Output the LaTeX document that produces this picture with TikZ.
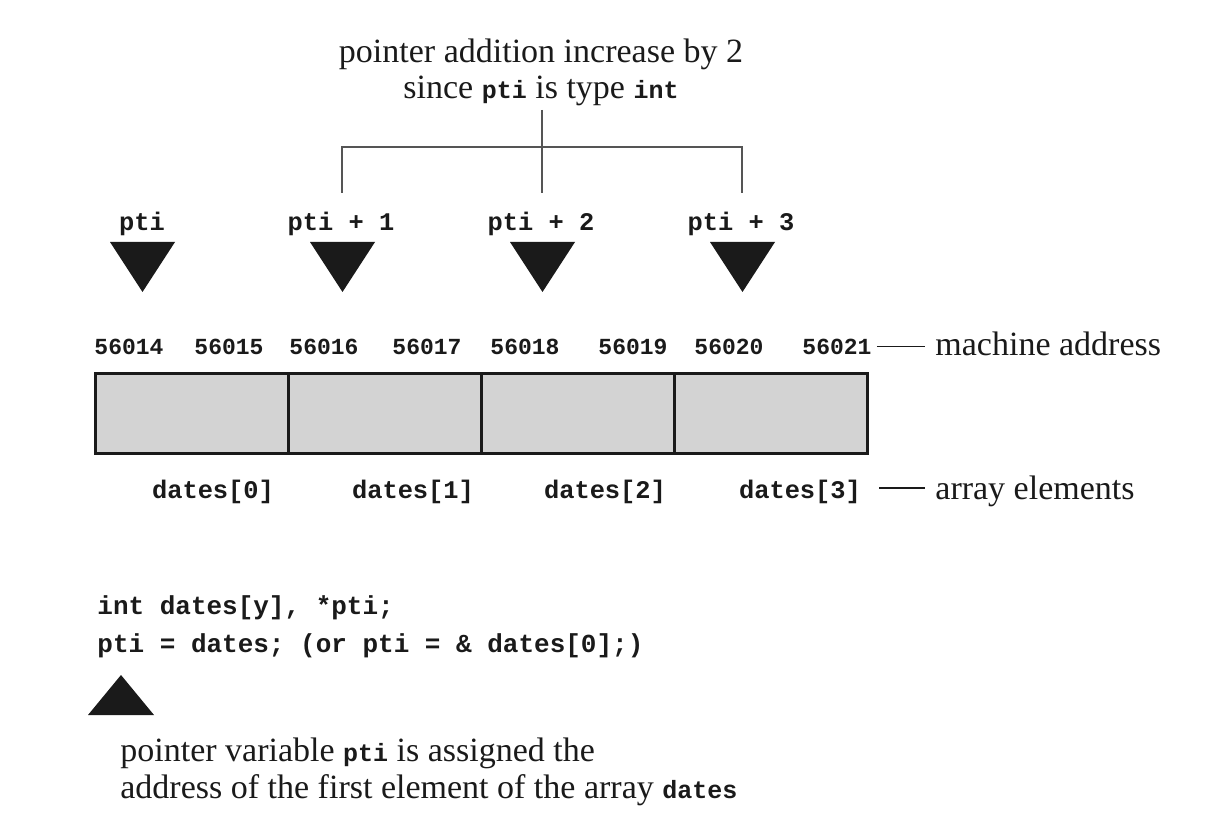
\documentclass[tikz,border=0pt]{standalone}
\usepackage{fontspec}
\setmainfont{Liberation Serif}
\setmonofont{Liberation Mono}
\definecolor{ink}{HTML}{1A1A1A}
\definecolor{cellfill}{HTML}{D3D3D3}
\definecolor{brk}{HTML}{555555}
\newcommand{\mc}[1]{{\fontsize{12.5}{14}\selectfont\ttfamily\bfseries #1}}
\begin{document}
\begin{tikzpicture}[x=0.5pt,y=-0.5pt,
  serif/.style={font=\fontsize{17}{18}\selectfont, text=ink, inner sep=0pt},
  lbl/.style={font=\fontsize{12.7}{14}\selectfont\ttfamily\bfseries, text=ink, inner sep=0pt, anchor=base},
  addr/.style={font=\fontsize{11.5}{13}\selectfont\ttfamily\bfseries, text=ink, inner sep=0pt, anchor=base},
  code/.style={font=\fontsize{13}{15}\selectfont\ttfamily\bfseries, text=ink, inner sep=0pt, anchor=base west},
  cell/.style={draw=ink, line width=1.5pt, fill=cellfill, minimum width=96.5pt, minimum height=40pt, inner sep=0pt},
  bracket/.style={draw=brk, line width=1pt},
  dashline/.style={draw=ink, line width=0.9pt},
  marker/.style={fill=ink}]
\useasboundingbox (0,0) rectangle (1228,824);
\fill[white] (0,0) rectangle (1228,824);

% title
\node[serif, anchor=base] (t1) at (541,63) {pointer addition increase by 2};
\node[serif, anchor=base] (t2) at (541,99) {since \mc{pti} is type \mc{int}};

% pointer labels
\node[lbl] (p0) at (142,231) {pti};
\node[lbl] (p1) at (341,231) {pti + 1};
\node[lbl] (p2) at (541,231) {pti + 2};
\node[lbl] (p3) at (741,231) {pti + 3};

% bracket
\coordinate (jt) at (542,110);
\coordinate (bl) at (342,147);
\coordinate (br) at (742,147);
\coordinate (e1) at (342,193);
\coordinate (e2) at (542,193);
\coordinate (e3) at (742,193);
\draw[bracket] (jt) -- (e2);
\draw[bracket] (e1) -- (bl) -- (br) -- (e3);

% down triangles
\foreach \x in {142.5,342.5,542.5,742.5}{
  \fill[marker] (\x-32.5,242) -- (\x+32.5,242) -- (\x,292) -- cycle;
}

% addresses
\node[addr] (a0) at (129,354) {56014};
\node[addr] (a1) at (229,354) {56015};
\node[addr] (a2) at (324,354) {56016};
\node[addr] (a3) at (427,354) {56017};
\node[addr] (a4) at (525,354) {56018};
\node[addr] (a5) at (633,354) {56019};
\node[addr] (a6) at (729,354) {56020};
\node[addr] (a7) at (837,354) {56021};
\node[serif, anchor=base west] (ma) at (935,355) {machine address};
\draw[dashline] ([xshift=2.5pt]a7.east) -- ([xshift=-5pt]a7.east -| ma.west);

% cells
\node[cell] (c0) at (191.5,413) {};
\node[cell] (c1) at (384.5,413) {};
\node[cell] (c2) at (577.5,413) {};
\node[cell] (c3) at (770.5,413) {};

% element labels
\node[lbl] (d0) at (213,498) {dates[0]};
\node[lbl] (d1) at (413,498) {dates[1]};
\node[lbl] (d2) at (605,498) {dates[2]};
\node[lbl] (d3) at (800,498) {dates[3]};
\node[serif, anchor=base west] (ae) at (935,499) {array elements};
\draw[dashline] ([xshift=9pt,yshift=5pt]d3.base east) -- ([xshift=-5pt,yshift=5pt]d3.base east -| ae.west);

% code
\node[code] (k1) at (97,614) {int dates[y], *pti;};
\node[code] (k2) at (97,652) {pti = dates; (or pti = \& dates[0];)};

% up triangle
\fill[marker] (88,715) -- (154,715) -- (121,675) -- cycle;

% explanation
\node[serif, anchor=base west] (x1) at (120,761) {pointer variable \mc{pti} is assigned the};
\node[serif, anchor=base west] (x2) at (120,798) {address of the first element of the array \mc{dates}};
\end{tikzpicture}
\end{document}
